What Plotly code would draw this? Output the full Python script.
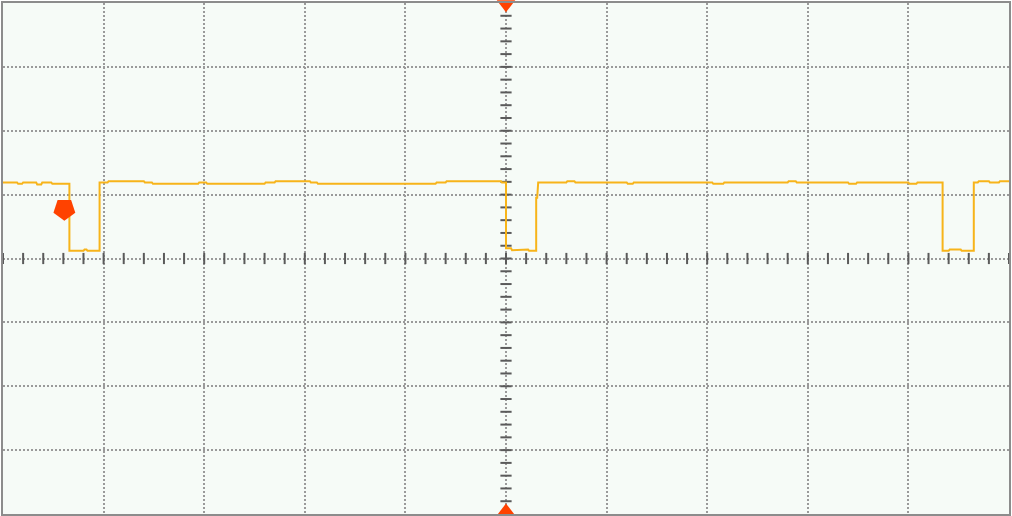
import plotly.graph_objects as go

# Oscilloscope screen: 10 horizontal divisions x 8 vertical divisions
x_divisions = [-5, 5]
y_divisions = [-4, 4]

# Channel trace (in divisions)
trace_x = [-5.00, -4.86, -4.85, -4.81, -4.80, -4.67, -4.66, -4.62, -4.61, -4.52, -4.51, -4.34,
           -4.34, -4.20, -4.19, -4.17, -4.16, -4.04,
           -4.04, -3.96, -3.95, -3.60, -3.59, -3.52, -3.51, -3.06, -3.05, -2.98, -2.97,
           -2.40, -2.39, -2.30, -2.29, -1.95, -1.94, -1.88, -1.87, -0.70, -0.69, -0.60, -0.59,
           -0.05, -0.04, 0.00,
           0.00, 0.05, 0.06, 0.15, 0.16, 0.22, 0.23, 0.30,
           0.30, 0.31, 0.32, 0.60, 0.61, 0.68, 0.69, 1.20, 1.21, 1.26, 1.27, 2.05, 2.06,
           2.16, 2.17, 2.80, 2.81, 2.88, 2.89, 3.40, 3.41, 3.48, 3.49, 4.00, 4.01, 4.08, 4.09, 4.34,
           4.34, 4.40, 4.41, 4.52, 4.53, 4.65,
           4.65, 4.69, 4.70, 4.80, 4.81, 4.90, 4.91, 5.00]
trace_y = [1.19, 1.19, 1.17, 1.17, 1.19, 1.19, 1.16, 1.16, 1.19, 1.19, 1.17, 1.17,
           0.12, 0.12, 0.14, 0.14, 0.12, 0.12,
           1.19, 1.19, 1.21, 1.21, 1.19, 1.19, 1.17, 1.17, 1.19, 1.19, 1.17,
           1.17, 1.19, 1.19, 1.21, 1.21, 1.19, 1.19, 1.17, 1.17, 1.19, 1.19, 1.21,
           1.21, 1.19, 1.19,
           0.16, 0.16, 0.13, 0.13, 0.14, 0.14, 0.12, 0.12,
           0.95, 0.95, 1.19, 1.19, 1.21, 1.21, 1.19, 1.19, 1.17, 1.17, 1.19, 1.19, 1.17,
           1.17, 1.19, 1.19, 1.21, 1.21, 1.19, 1.19, 1.17, 1.17, 1.19, 1.19, 1.17, 1.17, 1.19, 1.19,
           0.12, 0.12, 0.14, 0.14, 0.12, 0.12,
           1.19, 1.19, 1.21, 1.21, 1.19, 1.19, 1.21, 1.21]

# Graticule minor ticks on the centre axes (every 1/5 division)
minor_x = [i / 5 for i in range(-25, 26)]
minor_y = [i / 5 for i in range(-20, 21)]

# Trigger level marker and trigger position markers
trig_level_x = [-4.39]
trig_level_y = [0.77]
trig_pos_x = [0.0, 0.0]
trig_pos_y = [3.98, -3.96]

grid_col = "#9a9a9a"
tick_col = "#5a5a5a"
trace_col = "#f7b41a"
marker_col = "#ff4200"

fig = go.Figure()

fig.add_trace(go.Scatter(x=minor_x, y=[0] * len(minor_x), mode="markers",
                         marker=dict(symbol="line-ns", size=8, line=dict(width=2, color=tick_col)),
                         hoverinfo="skip", showlegend=False))
fig.add_trace(go.Scatter(x=[0] * len(minor_y), y=minor_y, mode="markers",
                         marker=dict(symbol="line-ew", size=8, line=dict(width=2, color=tick_col)),
                         hoverinfo="skip", showlegend=False))

fig.add_trace(go.Scatter(x=trace_x, y=trace_y, mode="lines",
                         line=dict(color=trace_col, width=2, shape="linear"),
                         showlegend=False))

fig.add_trace(go.Scatter(x=trig_level_x, y=trig_level_y, mode="markers",
                         marker=dict(symbol="pentagon", angle=180, size=23, color=marker_col),
                         showlegend=False))
fig.add_trace(go.Scatter(x=trig_pos_x[:1], y=trig_pos_y[:1], mode="markers",
                         marker=dict(symbol="triangle-down", size=16, color=marker_col),
                         cliponaxis=False, showlegend=False))
fig.add_trace(go.Scatter(x=trig_pos_x[1:], y=trig_pos_y[1:], mode="markers",
                         marker=dict(symbol="triangle-up", size=16, color=marker_col),
                         cliponaxis=False, showlegend=False))

axis_common = dict(showticklabels=False, ticks="", zeroline=False, showgrid=True,
                   gridcolor=grid_col, gridwidth=2, griddash="2px,2px",
                   showline=True, linecolor="#8c8c8c", linewidth=2, mirror=True,
                   fixedrange=True)

fig.update_layout(
    width=1012, height=516,
    margin=dict(l=3, r=2, t=1, b=2),
    paper_bgcolor="#ffffff",
    plot_bgcolor="#f6fbf7",
    xaxis=dict(range=x_divisions, dtick=1, tick0=0, **axis_common),
    yaxis=dict(range=y_divisions, dtick=1, tick0=0, **axis_common),
)

fig.write_html("out.html", config={"displayModeBar": False},
               post_script="document.body.style.margin='0';document.body.style.overflow='hidden';")
